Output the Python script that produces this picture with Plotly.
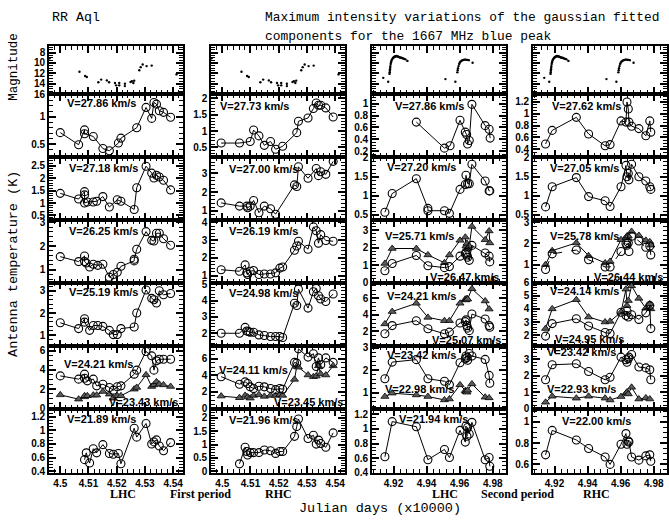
import plotly.graph_objects as go

W, H = 669, 524
COL_PX = [(49, 183), (211, 345), (372, 506), (533, 667)]
ROW_PX = [(42, 91), (91, 155), (155, 219), (219, 283), (283, 348), (348, 412), (412, 477)]

# ---------------- magnitude light curves ----------------
MAG1_X = [4.4962, 4.5068, 4.5088, 4.5094, 4.5135, 4.5145, 4.5165, 4.5173, 4.5194, 4.5198, 4.5209, 4.5209,
          4.5229, 4.5229, 4.5249, 4.5254, 4.5259, 4.5262, 4.5280, 4.5285, 4.5292, 4.5306, 4.5324, 4.5412]
MAG1_Y = [9.1, 11.7, 12.5, 12.7, 13.7, 13.2, 13.35, 13.7, 13.85, 14.3, 13.85, 14.3,
          14.0, 14.45, 13.65, 13.5, 13.85, 13.4, 11.4, 10.8, 10.3, 10.6, 10.5, 12.2]
MAG2_X = [4.9138, 4.9168, 4.9176, 4.9177, 4.9178, 4.9179, 4.9180, 4.9181, 4.9183, 4.9185, 4.9187, 4.9190,
          4.9193, 4.9197, 4.9200, 4.9204, 4.9208, 4.9212, 4.9216, 4.9220, 4.9225, 4.9230, 4.9235, 4.9240,
          4.9246, 4.9252, 4.9258, 4.9265, 4.9272, 4.9284,
          4.9514, 4.9574, 4.9586, 4.9588, 4.9590, 4.9593, 4.9597, 4.9601, 4.9606, 4.9612, 4.9618, 4.9624,
          4.9630, 4.9636, 4.9642, 4.9648, 4.9655, 4.9678]
MAG2_Y = [12.86, 13.6, 12.1, 11.8, 11.5, 11.2, 10.9, 10.6, 10.2, 9.9, 9.6, 9.4,
          9.2, 9.05, 8.95, 8.85, 8.75, 8.7, 8.65, 8.7, 8.75, 8.8, 8.9, 8.95,
          9.0, 9.05, 9.15, 9.2, 9.3, 9.6,
          13.1, 13.6, 11.8, 11.4, 11.0, 10.6, 10.2, 9.9, 9.7, 9.55, 9.45, 9.4,
          9.35, 9.35, 9.4, 9.4, 9.45, 9.95]

# ---------------- first period, LHC ----------------
L1_2786_X = [4.5000, 4.5065, 4.5086, 4.5086, 4.5117, 4.5151, 4.5174, 4.5206, 4.5215, 4.5271, 4.5304, 4.5324, 4.5332, 4.5341, 4.5351, 4.5366, 4.5391]
L1_2786_Y = [0.71, 0.49, 0.76, 0.69, 0.64, 0.42, 0.38, 0.52, 0.61, 0.80, 1.17, 0.97, 1.26, 1.23, 1.11, 1.08, 0.99]
L1_2718_X = [4.5000, 4.5065, 4.5086, 4.5086, 4.5086, 4.5096, 4.5117, 4.5129, 4.5151, 4.5174, 4.5202, 4.5215, 4.5262, 4.5271, 4.5304, 4.5324, 4.5332, 4.5341, 4.5351, 4.5366, 4.5391]
L1_2718_Y = [1.39, 1.16, 1.46, 1.33, 1.00, 1.04, 1.04, 1.07, 1.26, 0.84, 1.13, 1.07, 0.74, 1.62, 2.49, 2.21, 2.01, 2.12, 2.05, 1.92, 1.53]
L1_2625_X = [4.5000, 4.5065, 4.5086, 4.5086, 4.5092, 4.5104, 4.5117, 4.5133, 4.5151, 4.5174, 4.5188, 4.5202, 4.5215, 4.5262, 4.5262, 4.5271, 4.5304, 4.5324, 4.5332, 4.5341, 4.5351, 4.5366, 4.5391]
L1_2625_Y = [1.55, 1.34, 1.58, 1.34, 1.28, 1.11, 1.23, 1.18, 1.23, 0.68, 0.79, 0.89, 1.14, 1.37, 1.44, 1.86, 2.61, 2.24, 2.21, 2.54, 2.54, 2.31, 2.03]
L1_2519_X = [4.5000, 4.5065, 4.5086, 4.5086, 4.5104, 4.5117, 4.5133, 4.5151, 4.5174, 4.5188, 4.5202, 4.5215, 4.5262, 4.5271, 4.5304, 4.5324, 4.5332, 4.5341, 4.5351, 4.5366, 4.5391]
L1_2519_Y = [1.56, 1.30, 1.74, 1.59, 1.22, 1.44, 1.44, 1.40, 1.22, 1.03, 1.03, 1.30, 1.37, 2.00, 3.04, 2.66, 2.60, 2.45, 3.00, 2.82, 2.88]
L1_ROW6_X = [4.5000, 4.5065, 4.5086, 4.5086, 4.5096, 4.5117, 4.5129, 4.5151, 4.5174, 4.5188, 4.5202, 4.5215, 4.5262, 4.5271, 4.5304, 4.5324, 4.5332, 4.5341, 4.5351, 4.5366, 4.5391]
L1_2421_Y = [3.37, 3.03, 3.55, 3.13, 2.85, 3.03, 2.33, 2.50, 2.16, 1.88, 2.23, 2.33, 3.55, 3.97, 5.91, 5.46, 3.97, 4.94, 5.11, 5.11, 5.11]
L1_2343_Y = [1.39, 0.94, 1.18, 1.29, 1.29, 1.36, 1.36, 1.74, 1.46, 1.04, 1.29, 1.29, 1.98, 2.16, 3.48, 2.26, 2.43, 2.75, 2.50, 2.43, 2.26]
L1_2189_X = [4.5086, 4.5092, 4.5104, 4.5117, 4.5129, 4.5151, 4.5174, 4.5188, 4.5206, 4.5215, 4.5262, 4.5271, 4.5304, 4.5324, 4.5332, 4.5341, 4.5351, 4.5366, 4.5391]
L1_2189_Y = [0.57, 0.67, 0.52, 0.73, 0.67, 0.79, 0.66, 0.65, 0.66, 0.51, 1.03, 0.90, 1.10, 0.80, 0.83, 0.86, 0.77, 0.70, 0.82]

# ---------------- first period, RHC ----------------
R1_2773_X = [4.4996, 4.5061, 4.5099, 4.5111, 4.5130, 4.5149, 4.5171, 4.5189, 4.5214, 4.5264, 4.5270, 4.5304, 4.5323, 4.5333, 4.5341, 4.5349, 4.5367, 4.5393]
R1_2773_Y = [0.63, 0.63, 0.68, 1.03, 0.85, 0.56, 0.68, 0.44, 0.53, 0.95, 1.30, 1.40, 1.69, 1.86, 1.79, 1.79, 1.71, 1.43]
R1_2700_X = [4.4996, 4.5061, 4.5087, 4.5090, 4.5099, 4.5111, 4.5130, 4.5149, 4.5171, 4.5189, 4.5256, 4.5264, 4.5270, 4.5304, 4.5333, 4.5341, 4.5349, 4.5367, 4.5393]
R1_2700_Y = [1.43, 1.26, 1.26, 1.17, 1.26, 1.56, 0.91, 1.26, 1.12, 0.83, 2.39, 2.30, 3.35, 2.74, 3.26, 2.88, 3.09, 2.95, 3.64]
R1_2619_X = [4.4996, 4.5061, 4.5081, 4.5087, 4.5090, 4.5099, 4.5111, 4.5130, 4.5149, 4.5171, 4.5189, 4.5204, 4.5214, 4.5256, 4.5264, 4.5270, 4.5304, 4.5323, 4.5333, 4.5341, 4.5349, 4.5367, 4.5393]
R1_2619_Y = [1.33, 1.24, 1.60, 1.15, 1.06, 1.24, 1.28, 1.06, 1.09, 1.09, 1.15, 1.42, 1.48, 2.43, 2.67, 2.94, 2.49, 3.75, 3.53, 2.83, 3.31, 2.98, 2.94]
R1_2498_X = [4.4996, 4.5061, 4.5081, 4.5087, 4.5093, 4.5099, 4.5111, 4.5130, 4.5149, 4.5171, 4.5189, 4.5204, 4.5214, 4.5256, 4.5264, 4.5270, 4.5304, 4.5323, 4.5333, 4.5341, 4.5349, 4.5367, 4.5393]
R1_2498_Y = [2.00, 2.00, 2.36, 2.14, 2.10, 2.06, 2.06, 1.90, 1.86, 1.80, 1.80, 1.80, 1.74, 3.84, 3.70, 4.70, 3.54, 4.54, 4.74, 4.30, 4.10, 3.94, 4.40]
R1_ROW6_X = [4.4996, 4.5061, 4.5081, 4.5090, 4.5099, 4.5111, 4.5130, 4.5149, 4.5171, 4.5189, 4.5204, 4.5214, 4.5256, 4.5264, 4.5270, 4.5304, 4.5323, 4.5333, 4.5341, 4.5349, 4.5367, 4.5393]
R1_2411_Y = [3.83, 2.92, 3.20, 3.00, 2.60, 2.39, 2.67, 2.60, 2.39, 2.26, 2.39, 2.30, 5.56, 5.47, 7.20, 6.20, 6.60, 5.06, 6.10, 5.27, 6.10, 5.56]
R1_2345_Y = [1.48, 1.28, 1.56, 1.36, 1.23, 1.56, 1.65, 1.44, 1.56, 1.56, 1.65, 1.56, 3.50, 5.06, 4.98, 4.03, 3.83, 3.90, 5.14, 4.16, 4.03, 5.14]
R1_2196_X = [4.5061, 4.5081, 4.5087, 4.5090, 4.5099, 4.5111, 4.5130, 4.5149, 4.5171, 4.5189, 4.5204, 4.5214, 4.5256, 4.5264, 4.5270, 4.5304, 4.5323, 4.5333, 4.5341, 4.5349, 4.5367, 4.5393]
R1_2196_Y = [0.28, 0.90, 0.74, 0.61, 0.70, 0.70, 0.70, 0.80, 0.77, 0.67, 0.74, 0.74, 1.31, 1.68, 1.96, 1.23, 1.35, 1.02, 1.17, 1.04, 0.90, 1.44]

# ---------------- second period, LHC ----------------
L2_X16 = [4.9148, 4.9192, 4.9338, 4.9408, 4.9508, 4.9538, 4.9602, 4.9634, 4.9638, 4.9644, 4.9648, 4.9658, 4.9674, 4.9754, 4.9778, 4.9782]
L2_X14 = [4.9148, 4.9192, 4.9338, 4.9408, 4.9508, 4.9538, 4.9602, 4.9634, 4.9638, 4.9644, 4.9648, 4.9674, 4.9754, 4.9778]
L2_2786_X = [4.9338, 4.9508, 4.9542, 4.9602, 4.9634, 4.9642, 4.9648, 4.9658, 4.9674, 4.9754, 4.9778, 4.9784]
L2_2786_Y = [0.69, 0.25, 0.29, 0.72, 0.52, 0.48, 0.32, 0.38, 0.99, 0.63, 0.57, 0.42]
L2_2720_X = [4.9148, 4.9192, 4.9338, 4.9408, 4.9408, 4.9508, 4.9538, 4.9602, 4.9634, 4.9638, 4.9648, 4.9658, 4.9674, 4.9754, 4.9778, 4.9782]
L2_2720_Y = [0.57, 1.06, 1.45, 0.67, 0.61, 0.61, 0.54, 1.17, 1.30, 1.54, 1.32, 1.32, 1.83, 1.39, 1.13, 1.13]
L2_2571_Y = [1.09, 1.95, 1.95, 1.58, 1.13, 1.58, 2.42, 2.60, 2.09, 2.24, 1.95, 2.09, 3.22, 2.45, 2.96, 2.27]
L2_2647_Y = [0.67, 1.09, 1.55, 0.96, 0.85, 0.91, 1.51, 1.64, 1.73, 1.58, 1.45, 1.27, 2.13, 1.69, 1.51, 1.18]
L2_2421_Y = [2.91, 4.40, 5.40, 3.70, 3.30, 3.30, 5.40, 5.90, 5.80, 5.96, 5.90, 7.15, 5.68, 4.70]
L2_2507_Y = [1.72, 2.71, 3.30, 2.32, 1.72, 1.92, 3.03, 3.19, 3.40, 2.70, 2.40, 2.10, 4.10, 3.50, 2.71, 2.50]
L2_2342_Y = [1.63, 2.37, 2.48, 1.63, 1.52, 1.36, 2.34, 2.52, 2.64, 2.57, 2.45, 2.75, 2.64, 2.49, 1.78, 1.43]
L2_2298_Y = [0.84, 0.99, 0.91, 0.84, 0.69, 0.73, 1.36, 1.10, 1.06, 1.03, 1.12, 1.40, 0.81, 0.78]
L2_2194_Y = [0.62, 1.10, 1.03, 0.58, 0.72, 0.61, 0.98, 0.82, 1.04, 0.90, 1.02, 0.93, 1.09, 0.58, 0.61, 0.49]

# ---------------- second period, RHC ----------------
R2_X16 = [4.9146, 4.9186, 4.9332, 4.9406, 4.9506, 4.9536, 4.9602, 4.9632, 4.9638, 4.9646, 4.9650, 4.9666, 4.9710, 4.9752, 4.9776, 4.9782]
R2_X15 = [4.9146, 4.9186, 4.9332, 4.9406, 4.9506, 4.9536, 4.9602, 4.9632, 4.9638, 4.9646, 4.9666, 4.9710, 4.9752, 4.9776, 4.9782]
R2_X14 = [4.9146, 4.9186, 4.9332, 4.9406, 4.9506, 4.9536, 4.9602, 4.9632, 4.9638, 4.9646, 4.9666, 4.9710, 4.9752, 4.9776]
R2_2762_Y = [0.49, 0.72, 0.94, 0.66, 0.46, 0.48, 0.88, 0.86, 1.20, 1.08, 0.86, 0.79, 0.75, 0.63, 0.88, 0.69]
R2_2705_Y = [0.71, 1.24, 1.48, 0.98, 0.87, 0.72, 1.24, 1.80, 1.50, 1.59, 1.42, 1.83, 1.50, 1.39, 1.24, 1.17]
R2_2578_Y = [1.00, 1.66, 2.03, 1.42, 1.08, 1.15, 2.18, 2.28, 2.35, 2.35, 2.57, 2.38, 2.15, 2.08, 1.92]
R2_2644_Y = [0.77, 1.51, 1.69, 1.23, 0.89, 0.89, 1.62, 2.00, 1.92, 2.03, 1.62, 2.34, 2.12, 1.82, 1.88, 1.46]
R2_2414_Y = [2.50, 4.00, 4.70, 3.38, 3.00, 3.05, 3.75, 5.50, 4.25, 4.63, 5.75, 4.80, 4.05, 4.38, 4.00]
R2_2495_Y = [1.93, 2.88, 3.25, 2.70, 2.20, 2.13, 3.75, 3.50, 3.83, 3.38, 3.55, 3.20, 3.70, 4.25, 2.50]
R2_2342_Y = [1.75, 2.67, 2.73, 2.26, 1.75, 1.91, 3.14, 2.98, 2.83, 3.04, 3.14, 3.30, 2.53, 2.48, 2.36, 1.75]
R2_2293_Y = [0.37, 0.74, 0.62, 0.74, 0.62, 0.51, 0.72, 0.92, 0.99, 0.88, 1.29, 0.57, 0.64, 0.57]
R2_2200_Y = [0.69, 0.92, 0.83, 0.75, 0.67, 0.60, 0.79, 0.89, 0.79, 0.82, 0.81, 0.67, 0.64, 0.68, 0.69, 0.63]

# y ranges / tick steps per (row, col)
YAX = {
    (1, 0): ([0.265, 1.41], 0.5, 0.1), (1, 1): ([0.2, 2.13], 0.5, 0.1), (1, 2): ([0.1, 1.16], 0.2, 0.05), (1, 3): ([0.27, 1.33], 0.2, 0.05),
    (2, 0): ([0.32, 2.86], 0.5, 0.1), (2, 1): ([0.53, 3.87], 1, 0.2), (2, 2): ([0.37, 2.02], 0.5, 0.1), (2, 3): ([0.37, 2.02], 0.5, 0.1),
    (3, 0): ([0.45, 3.11], 1, 0.2), (3, 1): ([0.6, 4.15], 1, 0.2), (3, 2): ([-0.01, 3.6], 1, 0.2), (3, 3): ([0.15, 3.12], 1, 0.2),
    (4, 0): ([0.5, 3.37], 1, 0.2), (4, 1): ([1.2, 5.1], 1, 0.2), (4, 2): ([0.2, 7.9], 2, 0.5), (4, 3): ([1.15, 6.0], 1, 0.2),
    (5, 0): ([-0.1, 6.45], 2, 0.5), (5, 1): ([-0.1, 7.5], 2, 0.5), (5, 2): ([0.28, 3.07], 1, 0.2), (5, 3): ([-0.05, 3.8], 1, 0.2),
    (6, 0): ([0.376, 1.31], 0.2, 0.05), (6, 1): ([-0.06, 2.33], 0.5, 0.1), (6, 2): ([0.4, 1.27], 0.2, 0.05), (6, 3): ([0.52, 1.12], 0.2, 0.05),
}

# series: (row, col, x, y, kind)
SERIES = [
    (1, 0, L1_2786_X, L1_2786_Y, "o"), (2, 0, L1_2718_X, L1_2718_Y, "o"), (3, 0, L1_2625_X, L1_2625_Y, "o"),
    (4, 0, L1_2519_X, L1_2519_Y, "o"), (5, 0, L1_ROW6_X, L1_2343_Y, "t"), (5, 0, L1_ROW6_X, L1_2421_Y, "o"),
    (6, 0, L1_2189_X, L1_2189_Y, "o"),
    (1, 1, R1_2773_X, R1_2773_Y, "o"), (2, 1, R1_2700_X, R1_2700_Y, "o"), (3, 1, R1_2619_X, R1_2619_Y, "o"),
    (4, 1, R1_2498_X, R1_2498_Y, "o"), (5, 1, R1_ROW6_X, R1_2345_Y, "t"), (5, 1, R1_ROW6_X, R1_2411_Y, "o"),
    (6, 1, R1_2196_X, R1_2196_Y, "o"),
    (1, 2, L2_2786_X, L2_2786_Y, "o"), (2, 2, L2_2720_X, L2_2720_Y, "o"), (3, 2, L2_X16, L2_2571_Y, "t"),
    (3, 2, L2_X16, L2_2647_Y, "o"), (4, 2, L2_X14, L2_2421_Y, "t"), (4, 2, L2_X16, L2_2507_Y, "o"),
    (5, 2, L2_X14, L2_2298_Y, "t"), (5, 2, L2_X16, L2_2342_Y, "o"), (6, 2, L2_X16, L2_2194_Y, "o"),
    (1, 3, R2_X16, R2_2762_Y, "o"), (2, 3, R2_X16, R2_2705_Y, "o"), (3, 3, R2_X15, R2_2578_Y, "t"),
    (3, 3, R2_X16, R2_2644_Y, "od"), (4, 3, R2_X15, R2_2414_Y, "t"), (4, 3, R2_X15, R2_2495_Y, "o"),
    (5, 3, R2_X14, R2_2293_Y, "t"), (5, 3, R2_X16, R2_2342_Y, "o"), (6, 3, R2_X16, R2_2200_Y, "o"),
]

# velocity labels: (text, x_px, y_px)
LABELS = [
    ("V=27.86 km/s", 65, 100), ("V=27.73 km/s", 218, 103), ("V=27.86 km/s", 393, 103), ("V=27.62 km/s", 550, 103),
    ("V=27.18 km/s", 67, 166), ("V=27.00 km/s", 227, 167), ("V=27.20 km/s", 385, 165), ("V=27.05 km/s", 548, 166),
    ("V=26.25 km/s", 67, 230), ("V=26.19 km/s", 227, 230), ("V=25.71 km/s", 383, 235), ("V=25.78 km/s", 548, 235),
    ("V=26.47 km/s", 428, 277), ("V=26.44 km/s", 592, 277),
    ("V=25.19 km/s", 67, 293), ("V=24.98 km/s", 227, 294), ("V=24.21 km/s", 385, 297), ("V=24.14 km/s", 548, 292),
    ("V=25.07 km/s", 430, 342), ("V=24.95 km/s", 553, 340),
    ("V=24.21 km/s", 62, 366), ("V=23.43 km/s", 107, 405), ("V=24.11 km/s", 217, 372), ("V=23.45 km/s", 272, 405),
    ("V=23.42 km/s", 385, 357), ("V=22.98 km/s", 383, 391), ("V=23.42 km/s", 545, 354), ("V=22.93 km/s", 545, 391),
    ("V=21.89 km/s", 65, 422), ("V=21.96 km/s", 227, 423), ("V=21.94 km/s", 397, 422), ("V=22.00 km/s", 560, 424),
]

XR1, XR2 = [4.496, 4.5435], [4.907, 4.988]
MAG_RANGE = [16.02, 6.77]

TICKFONT = dict(family="Liberation Sans", size=10, color="black", weight="bold")
MONO = "Liberation Mono"
SERIF = "Liberation Serif"


def sid(r, c):
    n = r * 4 + c + 1
    return "" if n == 1 else str(n)


fig = go.Figure()
layout = {}

for r in range(7):
    for c in range(4):
        s = sid(r, c)
        x0, x1 = COL_PX[c]
        y0, y1 = ROW_PX[r]
        first = c < 2
        xa = dict(domain=[x0 / W, x1 / W], anchor="y" + s, range=XR1 if first else XR2,
                  tick0=4.5 if first else 4.92, dtick=0.01 if first else 0.02,
                  showline=True, linewidth=1.6, linecolor="black", mirror="allticks",
                  ticks="inside", ticklen=7, tickwidth=1.8, tickcolor="#000000",
                  minor=dict(dtick=0.002 if first else 0.004, ticks="inside", ticklen=4,
                             tickwidth=1.3, tickcolor="#000000"),
                  showgrid=False, zeroline=False, showticklabels=(r == 6), tickfont=TICKFONT)
        if r == 0:
            rng, t0, dt, mdt, lab = MAG_RANGE, 8, 2, 0.5, (c == 0)
        else:
            rng, dt, mdt = YAX[(r, c)]
            t0, lab = 0, True
        ya = dict(domain=[1 - y1 / H, 1 - y0 / H], anchor="x" + s, range=rng, tick0=t0, dtick=dt,
                  showline=True, linewidth=1.6, linecolor="black", mirror="allticks",
                  ticks="inside", ticklen=7, tickwidth=1.8, tickcolor="#000000",
                  minor=dict(dtick=mdt, ticks="inside", ticklen=4, tickwidth=1.3, tickcolor="#000000"),
                  showgrid=False, zeroline=False, showticklabels=lab, tickfont=TICKFONT)
        layout["xaxis" + s] = xa
        layout["yaxis" + s] = ya

# magnitude rows
for c in range(4):
    s = sid(0, c)
    mx, my = (MAG1_X, MAG1_Y) if c < 2 else (MAG2_X, MAG2_Y)
    fig.add_trace(go.Scatter(x=mx, y=my, mode="markers", xaxis="x" + s, yaxis="y" + s,
                             marker=dict(symbol="circle", size=2.4, color="black"),
                             showlegend=False))

for r, c, xs, ys, kind in SERIES:
    s = sid(r, c)
    if kind == "t":
        mk = dict(symbol="triangle-up", size=7, color="#5a5a5a", line=dict(color="black", width=0.8))
        ln = dict(color="black", width=1)
    else:
        mk = dict(symbol="circle-open", size=8, color="black", line=dict(color="black", width=1.1))
        ln = dict(color="black", width=1, dash="dash" if kind == "od" else "solid")
    fig.add_trace(go.Scatter(x=xs, y=ys, mode="lines+markers", xaxis="x" + s, yaxis="y" + s,
                             line=ln, marker=mk, showlegend=False))

ann = []
for text, px, py in LABELS:
    ann.append(dict(text=text, x=px / W, y=1 - py / H, xref="paper", yref="paper",
                    xanchor="left", yanchor="middle", showarrow=False,
                    font=dict(family="Liberation Sans", size=11, color="black", weight="bold")))

TXT = [
    ("RR Aql", 50, 13, "left", 13.3, 0, MONO, "normal"),
    ("Maximum intensity variations of the gaussian fitted", 263, 13, "left", 12.9, 0, MONO, "normal"),
    ("components for the 1667 MHz blue peak", 263, 32, "left", 12.9, 0, MONO, "normal"),
    ("LHC", 123, 499, "center", 12, 0, SERIF, "bold"), ("First period", 200, 499, "center", 12, 0, SERIF, "bold"),
    ("RHC", 278, 499, "center", 12, 0, SERIF, "bold"), ("LHC", 445, 499, "center", 12, 0, SERIF, "bold"),
    ("Second period", 517, 499, "center", 12, 0, SERIF, "bold"), ("RHC", 596, 499, "center", 12, 0, SERIF, "bold"),
    ("Julian days (x10000)", 380, 513, "center", 13.5, 0, MONO, "normal"),
    ("Magnitude", 14, 63, "center", 12.5, -90, MONO, "normal"),
    ("Antenna temperature (K)", 14, 264, "center", 13.5, -90, MONO, "normal"),
]
for text, px, py, anchor, size, rot, fam, wt in TXT:
    ann.append(dict(text=text, x=px / W, y=1 - py / H, xref="paper", yref="paper",
                    xanchor=anchor, yanchor="middle", showarrow=False, textangle=rot,
                    font=dict(family=fam, size=size, color="black", weight=wt)))

fig.update_layout(width=W, height=H, margin=dict(l=0, r=0, t=0, b=0),
                  paper_bgcolor="white", plot_bgcolor="rgba(0,0,0,0)", showlegend=False,
                  annotations=ann)
fig.update_layout(layout)
fig.write_html("out.html")
